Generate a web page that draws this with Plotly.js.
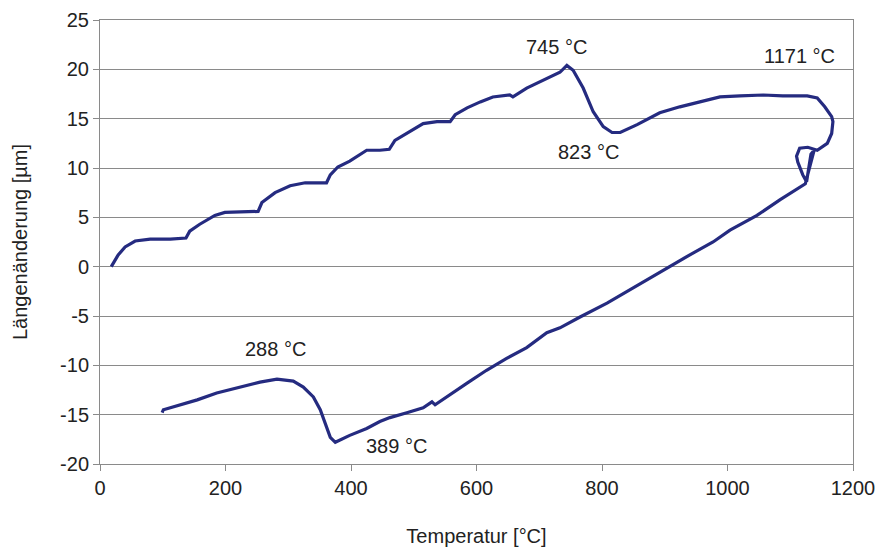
<!DOCTYPE html>
<html>
<head>
<meta charset="utf-8">
<script src="https://cdn.plot.ly/plotly-3.0.1.min.js"></script>
<style>html,body{margin:0;padding:0;background:#fff;}#chart{width:883px;height:556px;}</style>
</head>
<body>
<div id="chart"></div>
<script>
// Dilatometer curve: temperature [°C] vs. length change [µm] (heating, loop at max, cooling)
var tempC = [
  18, 24, 29, 40, 56, 80, 112, 137,
  143, 159, 183, 199, 231, 252,
  258, 279, 303, 327, 355, 361,
  367, 379, 398, 425, 446, 461,
  470, 489, 515, 537, 558,
  566, 585, 606, 626, 653, 658,
  680, 706, 733, 744, 754, 770, 786, 802, 816, 829, 856, 892,
  924, 956, 988, 1020, 1057, 1088, 1127, 1143, 1155, 1166, 1168, 1166, 1159,
  1143, 1128, 1115, 1110, 1112, 1120, 1126, 1133, 1138, 1130, 1124,
  1084, 1047, 1004, 977, 940, 908, 871, 839, 808, 765, 733, 712, 680, 648,
  616, 585, 553, 534, 529, 515, 489, 462, 446, 425, 398, 375,
  367, 358, 351, 340, 324, 308, 282, 255, 223, 186, 155, 128, 101, 99
];
var dL = [
  0.0, 0.7, 1.2, 2.0, 2.6, 2.8, 2.8, 2.9,
  3.6, 4.3, 5.2, 5.5, 5.6, 5.6,
  6.5, 7.5, 8.2, 8.5, 8.5, 8.5,
  9.3, 10.1, 10.7, 11.8, 11.8, 11.9,
  12.8, 13.5, 14.5, 14.7, 14.7,
  15.4, 16.1, 16.7, 17.2, 17.4, 17.2,
  18.1, 18.9, 19.7, 20.4, 19.9, 18.1, 15.7, 14.2, 13.6, 13.6, 14.4, 15.6,
  16.2, 16.7, 17.2, 17.3, 17.4, 17.3, 17.3, 17.1, 16.2, 15.2, 14.7, 13.5, 12.5,
  11.8, 12.1, 12.0, 11.2, 10.6, 9.3, 8.6, 11.4, 11.8, 10.0, 8.4,
  6.8, 5.2, 3.7, 2.5, 1.2, 0.0, -1.35, -2.6, -3.7, -5.1, -6.2, -6.7, -8.2, -9.3,
  -10.5, -11.8, -13.2, -14.0, -13.7, -14.3, -14.8, -15.3, -15.7, -16.4, -17.1, -17.8,
  -17.3, -15.8, -14.5, -13.2, -12.2, -11.6, -11.4, -11.7, -12.2, -12.8, -13.5, -14.0, -14.5, -14.8
];
var yTickVals = [-20, -15, -10, -5, 0, 5, 10, 15, 20, 25];
var yTickText = ["-20", "-15", "-10", "-5", "0", "5", "10", "15", "20", "25"];
var labelText = ["745 °C", "1171 °C", "823 °C", "288 °C", "389 °C"];
var labelX = [728, 1115, 778, 279, 473];
var labelY = [22.3, 21.35, 11.6, -8.3, -18.2];

var fontFam = "Liberation Sans, Arial, sans-serif";
var annotations = labelText.map(function (t, i) {
  return {x: labelX[i], y: labelY[i], xref: "x", yref: "y", text: t, showarrow: false,
          font: {family: fontFam, size: 20, color: "#222"}};
});

Plotly.newPlot("chart", [{
  x: tempC, y: dL, type: "scatter", mode: "lines",
  line: {color: "#252b80", width: 3.2}, hoverinfo: "skip"
}], {
  width: 883, height: 556,
  margin: {l: 100, r: 30, t: 20, b: 92},
  paper_bgcolor: "#fff", plot_bgcolor: "#fff",
  showlegend: false,
  font: {family: fontFam, size: 20, color: "#222"},
  xaxis: {
    range: [0, 1200], dtick: 200, tick0: 0, showgrid: false, zeroline: false,
    showline: true, linecolor: "#8a8a8a", linewidth: 1, mirror: true,
    ticks: "outside", ticklen: 6, tickcolor: "#8a8a8a",
    title: {text: "Temperatur [°C]", font: {size: 20, color: "#222"}, standoff: 30}
  },
  yaxis: {
    range: [-20, 25], tickmode: "array", tickvals: yTickVals, ticktext: yTickText,
    showgrid: true, gridcolor: "#8a8a8a", gridwidth: 1,
    zeroline: false, showline: true, linecolor: "#8a8a8a", linewidth: 1, mirror: true,
    ticks: "outside", ticklen: 6, tickcolor: "#8a8a8a",
    title: {text: "Längenänderung [µm]", font: {size: 20, color: "#222"}, standoff: 27}
  },
  annotations: annotations
}, {staticPlot: true});
</script>
</body>
</html>
